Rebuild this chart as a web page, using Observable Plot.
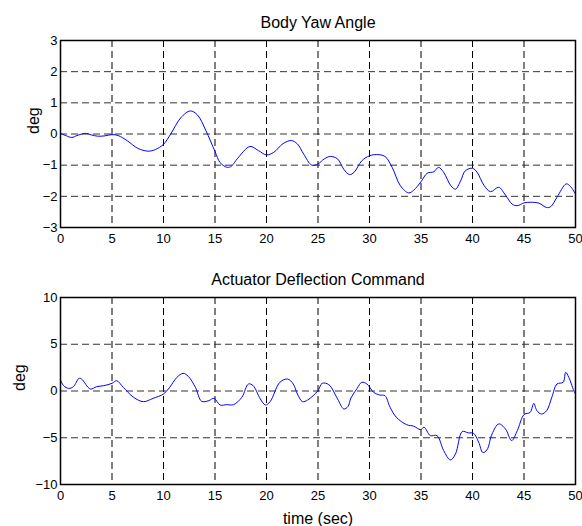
<!DOCTYPE html>
<html>
<head>
<meta charset="utf-8">
<script src="https://cdn.jsdelivr.net/npm/d3@7"></script>
<script src="https://cdn.jsdelivr.net/npm/@observablehq/plot@0.6"></script>
<style>
  html, body { margin: 0; padding: 0; background: #fff; }
  #chart { width: 582px; }
  #chart svg { display: block; }
</style>
</head>
<body>
<div id="chart"></div>
<script>
// Body yaw angle (deg) over time (sec)
const yawTime = [0, 0.5, 1.1, 1.6, 2.4, 3.0, 3.6, 4.3, 5.0, 5.6, 6.5, 7.5, 8.5, 9.2, 10, 10.7, 11.7, 12.6, 13.3, 14.1,
  15.0, 15.5, 16.2, 16.6, 17.2, 18.4, 19.2, 20, 20.7, 21.6, 22.4, 23.0, 23.6, 24.4, 25.0, 25.6, 26.2, 26.9, 27.5, 28.05,
  28.5, 29.25, 30, 30.7, 31.5, 32.2, 33.0, 33.8, 34.3, 35, 35.6, 36.25, 36.7, 37.2, 37.9, 38.35, 38.85, 39.3, 40, 40.45,
  41.1, 41.75, 42.55, 43.2, 43.85, 44.35, 45, 45.65, 46.45, 47.2, 47.6, 48.2, 49.1, 49.5, 50];
const yawDeg = [0.02, -0.05, -0.11, -0.05, 0.02, -0.03, -0.07, -0.06, -0.02, -0.05, -0.22, -0.46, -0.55, -0.5, -0.33, 0.0, 0.53, 0.74, 0.61, 0.12,
  -0.56, -0.92, -1.07, -1.03, -0.78, -0.4, -0.53, -0.67, -0.59, -0.31, -0.21, -0.32, -0.64, -1.0, -0.96, -0.8, -0.72, -0.8, -1.13, -1.3,
  -1.23, -0.86, -0.7, -0.66, -0.72, -1.07, -1.66, -1.89, -1.8, -1.53, -1.26, -1.21, -1.07, -1.23, -1.66, -1.77, -1.5, -1.18, -1.1, -1.23,
  -1.64, -1.85, -1.71, -1.96, -2.25, -2.3, -2.21, -2.19, -2.22, -2.36, -2.33, -2.03, -1.6, -1.68, -1.93];

// Actuator deflection command (deg) over time (sec)
const cmdTime = [0, 0.3, 0.8, 1.25, 1.8, 2.05, 2.9, 3.5, 4.2, 5, 5.45, 6.1, 7.1, 8.05, 9.0, 10, 10.6, 11.3, 11.9, 12.4,
  13.1, 13.7, 14.4, 14.9, 15.5, 16.15, 16.8, 17.6, 18.25, 18.7, 19.4, 19.9, 20.35, 21.3, 22.05, 22.6, 23.0, 23.5, 24.0, 25,
  25.4, 26.05, 26.9, 27.5, 27.9, 28.2, 28.8, 29.25, 29.75, 30.4, 31.0, 31.5, 32.0, 32.6, 33.6, 34.3, 34.95, 35.3, 35.9, 36.55,
  37.2, 37.85, 38.35, 39.0, 39.6, 40.1, 40.6, 41.0, 41.4, 41.9, 42.55, 43.2, 43.8, 44.35, 45, 45.6, 45.95, 46.25, 46.7, 47.2,
  47.7, 48.2, 48.8, 49.05, 49.35, 49.9, 50];
const cmdDeg = [1.17, 0.57, 0.28, 0.46, 1.35, 1.28, 0.21, 0.46, 0.57, 0.82, 1.1, 0.39, -0.68, -1.14, -0.78, -0.32, 0.39, 1.46, 1.89, 1.57,
  0.39, -1.1, -1.03, -0.78, -1.5, -1.46, -1.46, -0.68, 0.75, 0.57, -0.85, -1.5, -1.14, 0.93, 1.28, 0.75, -0.32, -1.14, -0.96, 0.04,
  0.82, 0.68, -0.85, -1.92, -1.67, -0.75, 0.28, 0.93, 0.75, -0.14, -0.43, -0.5, -1.74, -2.8, -3.6, -3.77, -4.13, -3.88, -4.77, -4.77,
  -6.37, -7.37, -6.73, -4.34, -4.48, -4.52, -5.48, -6.58, -6.3, -4.59, -3.52, -4.06, -5.3, -4.24, -2.53, -2.28, -1.32, -2.1, -2.46, -2.1,
  -0.68, 0.75, 0.93, 2.0, 1.46, -0.14, -0.3];

const xTicks = [0, 5, 10, 15, 20, 25, 30, 35, 40, 45, 50];
const yawTicks = [-3, -2, -1, 0, 1, 2, 3];
const cmdTicks = [-10, -5, 0, 5, 10];

const yawRows = yawTime.map((t, i) => ({t, v: yawDeg[i]}));
const cmdRows = cmdTime.map((t, i) => ({t, v: cmdDeg[i]}));

const font = "'Liberation Sans', Arial, sans-serif";

function panel({rows, yDomain, yTicks, title, height, marginTop, marginBottom, ylabelDx, xlabel}) {
  const marks = [
    Plot.gridX(xTicks, {stroke: "#000", strokeOpacity: 1, strokeWidth: 1, strokeDasharray: "7,4"}),
    Plot.gridY(yTicks, {stroke: "#333", strokeOpacity: 1, strokeWidth: 1, strokeDasharray: "7,4"}),
    Plot.line(rows, {x: "t", y: "v", stroke: "#0000ff", strokeWidth: 1, curve: "catmull-rom"}),
    Plot.frame({stroke: "#000", strokeWidth: 1.5}),
    Plot.axisX(xTicks, {tickSize: 0, tickPadding: 6, label: null, fontSize: 13}),
    Plot.axisY(yTicks, {tickSize: 0, tickPadding: 3, label: null, fontSize: 13}),
    Plot.text([title], {frameAnchor: "top", dy: -18, fontSize: 16, lineAnchor: "middle"}),
    Plot.text(["deg"], {frameAnchor: "left", dx: ylabelDx, rotate: -90, fontSize: 16, lineAnchor: "middle"})
  ];
  if (xlabel) marks.push(Plot.text([xlabel], {frameAnchor: "bottom", dy: 34, fontSize: 16, lineAnchor: "middle"}));
  return Plot.plot({
    width: 582,
    height,
    marginTop,
    marginBottom,
    marginLeft: 60,
    marginRight: 7,
    style: {fontFamily: font, fontSize: "13px", color: "#000", background: "#fff", overflow: "visible"},
    x: {domain: [0, 50]},
    y: {domain: yDomain},
    marks
  });
}

const chart = document.getElementById("chart");
chart.append(panel({
  rows: yawRows, yDomain: [-3, 3], yTicks: yawTicks, title: "Body Yaw Angle",
  height: 260, marginTop: 40, marginBottom: 33, ylabelDx: -27
}));
chart.append(panel({
  rows: cmdRows, yDomain: [-10, 10], yTicks: cmdTicks, title: "Actuator Deflection Command",
  height: 266, marginTop: 37, marginBottom: 42, ylabelDx: -41, xlabel: "time (sec)"
}));
</script>
</body>
</html>
